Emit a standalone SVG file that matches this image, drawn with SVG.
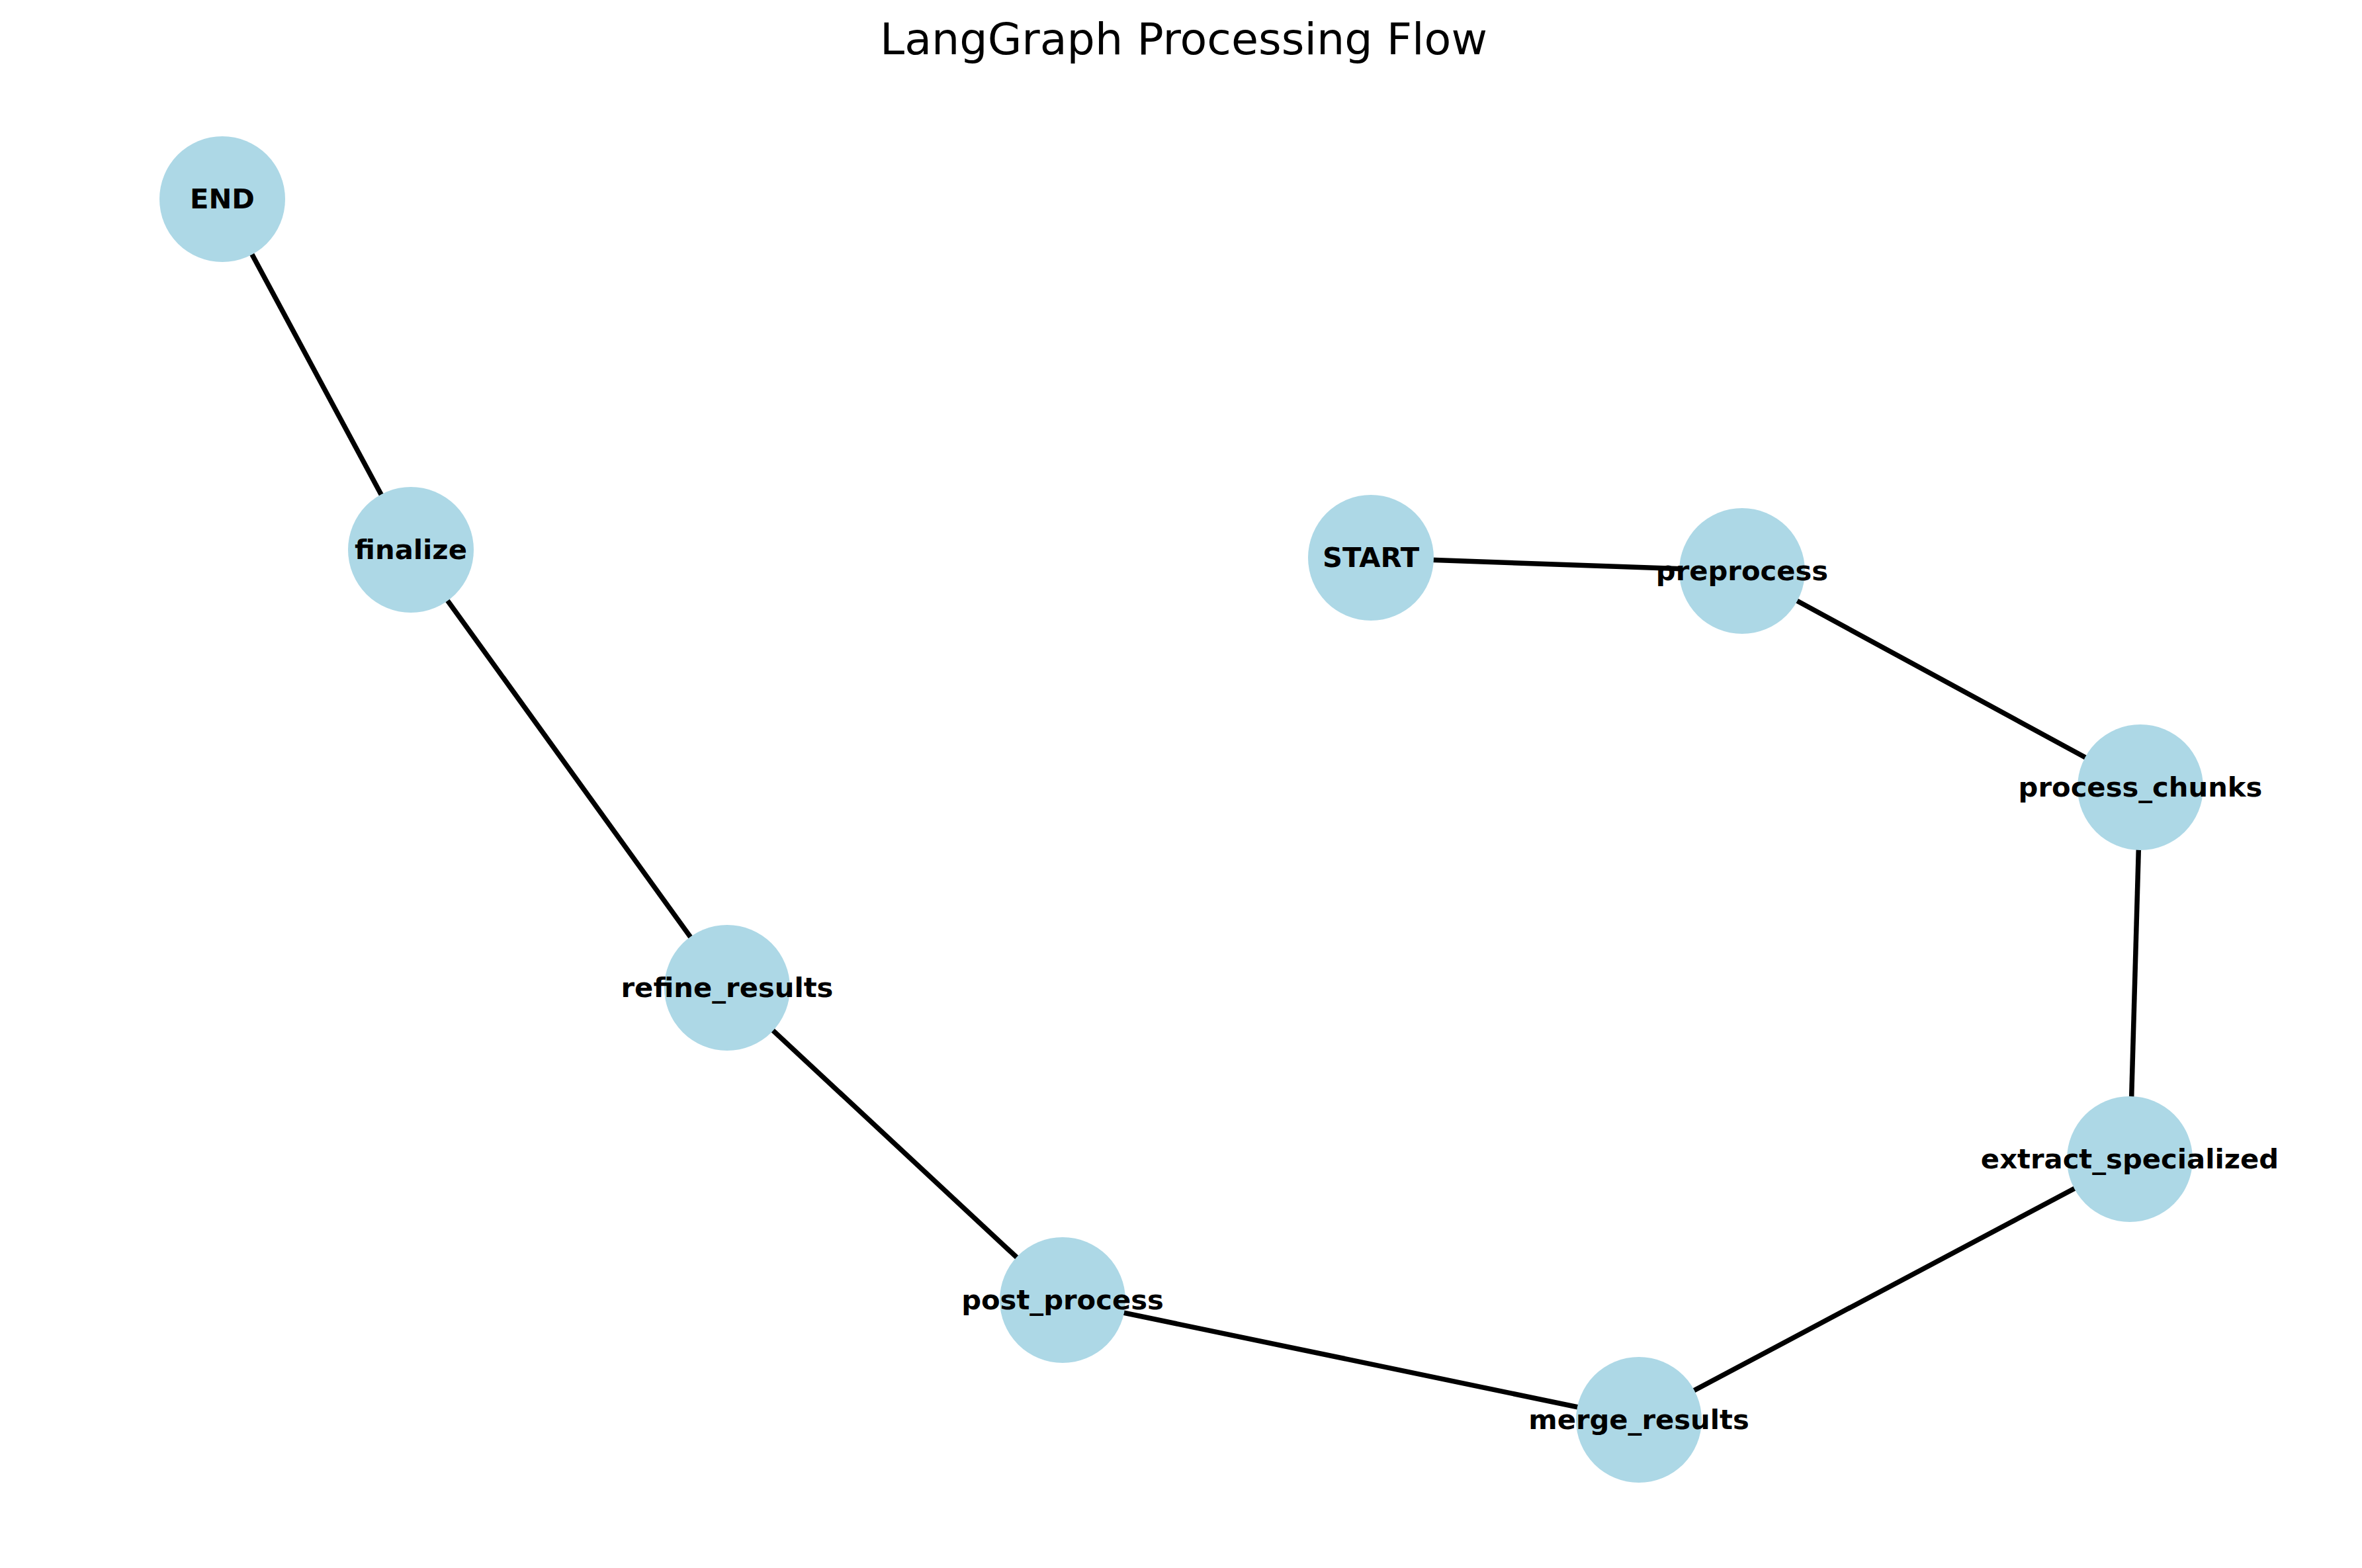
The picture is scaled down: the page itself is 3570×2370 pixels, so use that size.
<svg xmlns="http://www.w3.org/2000/svg" width="3570" height="2370" viewBox="0 0 3570 2370">
<style>
.edge{stroke:#000;stroke-width:7.5;fill:none;stroke-linecap:butt}
.node circle{fill:#ADD8E6}
.node text{font-family:"DejaVu Sans",sans-serif;font-weight:bold;font-size:41.7px;text-anchor:middle;fill:#000}
.title{font-family:"DejaVu Sans",sans-serif;font-size:66.7px;text-anchor:middle;fill:#000}
</style>
<rect width="3570" height="2370" fill="#fff"/>
<text class="title" x="1789" y="82">LangGraph Processing Flow</text>
<g id="edges">
<line class="edge" x1="336" y1="301" x2="621" y2="831"/>
<line class="edge" x1="621" y1="831" x2="1099" y2="1493"/>
<line class="edge" x1="1099" y1="1493" x2="1606" y2="1965"/>
<line class="edge" x1="1606" y1="1965" x2="2477" y2="2146"/>
<line class="edge" x1="2477" y1="2146" x2="3219" y2="1752"/>
<line class="edge" x1="3219" y1="1752" x2="3235" y2="1190"/>
<line class="edge" x1="3235" y1="1190" x2="2633" y2="863"/>
<line class="edge" x1="2633" y1="863" x2="2072" y2="843"/>
</g>
<g id="node-END" class="node"><circle cx="336" cy="301" r="95"/></g>
<g id="node-finalize" class="node"><circle cx="621" cy="831" r="95"/></g>
<g id="node-START" class="node"><circle cx="2072" cy="843" r="95"/></g>
<g id="node-preprocess" class="node"><circle cx="2633" cy="863" r="95"/></g>
<g id="node-process_chunks" class="node"><circle cx="3235" cy="1190" r="95"/></g>
<g id="node-extract_specialized" class="node"><circle cx="3219" cy="1752" r="95"/></g>
<g id="node-merge_results" class="node"><circle cx="2477" cy="2146" r="95"/></g>
<g id="node-post_process" class="node"><circle cx="1606" cy="1965" r="95"/></g>
<g id="node-refine_results" class="node"><circle cx="1099" cy="1493" r="95"/></g>
<g id="labels" class="node">
<text x="336" y="315">END</text>
<text x="621" y="845">finalize</text>
<text x="2072" y="857">START</text>
<text x="2633" y="877">preprocess</text>
<text x="3235" y="1204">process_chunks</text>
<text x="3219" y="1766">extract_specialized</text>
<text x="2477" y="2160">merge_results</text>
<text x="1606" y="1979">post_process</text>
<text x="1099" y="1507">refine_results</text>
</g>
</svg>
